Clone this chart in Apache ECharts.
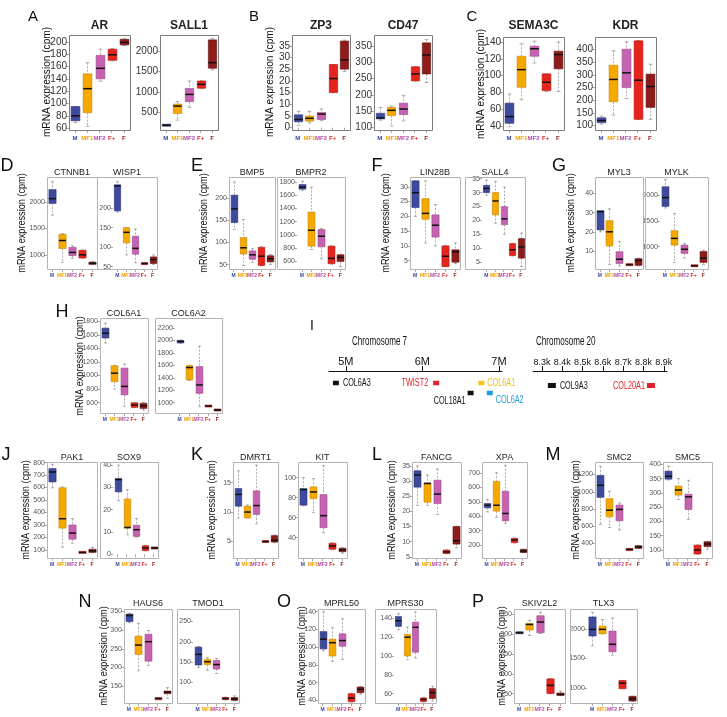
<!DOCTYPE html>
<html>
<head>
<meta charset="utf-8">
<script src="https://cdn.jsdelivr.net/npm/echarts@6/dist/echarts.min.js"></script>
<style>
  html, body { margin: 0; padding: 0; background: #fff; }
  #chart { width: 727px; height: 717px; }
</style>
</head>
<body>
<div id="chart"></div>
<script>
const groups = ['M', 'MF1', 'MF2', 'F+', 'F'];

// box stats per group: [min, q1, median, q3, max]
const AR      = [[69,72,80,95,95],[63,85,124,148,166],[136,140,157,178,188],[169,170,179,188,189],[194,195,199,204,205]];
const SALL1   = [[180,185,195,205,210],[320,480,660,710,770],[630,770,945,1090,1270],[1090,1095,1190,1270,1275],[1540,1580,1715,2270,2300]];
const ZP3     = [[1,2.5,3.5,5.5,7],[2,2.8,4,5,7],[3,3.5,5.8,6.5,8],[15,15,21,27,27],[24,25,29,37,37.4]];
const CD47    = [[123,127,130,144,162],[105,137,153,162,166],[121,140,157,175,198],[242,243,264,286,287],[238,264,322,359,369]];
const SEMA3C  = [[39,43,51,67,78],[71,86,107,123,138],[115,123,132,135,141],[81,82,92,102,102],[81,108,125,129,140]];
const KDR     = [[106,112,120,131,138],[142,194,282,338,395],[207,250,308,401,430],[124,125,279,434,435],[125,172,254,303,342]];
const CTNNB1  = [[1750,1970,2060,2230,2380],[860,1120,1270,1385,1400],[935,985,1045,1140,1170],[935,940,1000,1085,1090],[815,820,840,860,870]];
const WISP1   = [[190,193,257,260,268],[80,111,138,150,150],[60,82,97,128,147],[57,57.5,58,58.5,59],[56,58,68,75,80]];
const BMP5    = [[129,145,176,207,237],[48,74,88,111,152],[55,62,72,81,86],[47,48,69,89,90],[50,56,63,70,73]];
const BMPR2   = [[1675,1690,1720,1760,1810],[780,830,1070,1345,1720],[640,820,980,1080,1095],[560,565,645,830,835],[520,600,660,700,705]];
const LIN28B  = [[20,23,28,32,32],[11,19,21,26,32],[10,13,17,20.5,24],[3,3,6.5,10,10.2],[4,4.5,8,8.7,11]];
const SALL4   = [[29,30,31.5,32.6,34.5],[19,22,27,30,34],[15,18.5,20.6,25,32],[7.3,7.4,9.5,11.7,11.8],[3.5,6.5,10.5,13.5,15.5]];
const MYL3    = [[20,21,30.5,31,31],[3,12.6,20,25.8,32],[2.3,3.5,5.7,9.6,15],[2.6,2.7,2.9,3.0,3.1],[2.3,2.5,5,6,6.2]];
const MYLK    = [[1750,1780,1950,2160,2300],[690,1030,1160,1310,1640],[780,870,950,1030,1060],[620,625,630,635,640],[650,695,780,905,930]];
const COL6A1  = [[1480,1555,1625,1700,1775],[800,910,1035,1145,1150],[550,715,840,1110,1170],[525,530,565,598,600],[490,515,555,590,605]];
const COL6A2  = [[1955,1960,1985,2000,2005],[1360,1365,1565,1595,1600],[935,1150,1285,1580,1910],[940,942,946,950,952],[875,878,882,886,890]];
const PAK1    = [[598,645,725,752,787],[122,275,350,598,605],[154,186,235,300,350],[78,79,80,81,82],[78,80,92,105,120]];
const SOX9    = [[24,28,33.5,34,40],[8.7,11.7,12,24.8,29],[7.7,8,11,13,16],[1.5,1.6,2.8,3.8,4],[2.6,2.7,2.8,2.9,3.0]];
const DMRT1   = [[9,11,13,14,17],[9,9,10,11,11.2],[8,9.6,11.1,13.6,18],[4.9,4.95,5,5.05,5.1],[4.8,4.9,5.2,6,6.1]];
const KIT     = [[72,72.5,88,89,100],[65,79,85.7,90.7,99],[45,50,62,83,112],[28,28.5,31.7,34.4,35],[24.5,26,27.7,29.4,30]];
const FANCG   = [[22,28,32,33.4,35],[22,23,29.2,29.4,32],[19,22.6,25.7,30.3,34],[6,6.1,6.6,7.2,7.3],[8,9.2,10.3,15,15.1]];
const XPA     = [[430,458,476,488,516],[391,435,476,642,702],[350,368,419,573,753],[215,216,235,246,248],[147,148,159,170,171]];
const SMC2    = [[620,935,1075,1190,1295],[585,710,785,920,1005],[555,663,795,845,870],[315,318,330,340,342],[340,342,360,372,374]];
const SMC5    = [[345,348,358,376,393],[277,292,310,324,350],[207,242,286,295,344],[85,86,100,117,118],[103,112,121,129,130]];
const HAUS6   = [[320,323,339,343,345],[191,235,260,284,318],[206,217,269,289,299],[114,115,117,118,119],[118,130,134,137,146]];
const TMOD1   = [[137,143,169,187,188],[130,144,151,157,161],[122,133,144,154,159],[57,58,60.5,63,64],[55,56,59,63,67]];
const MPRL50  = [[96,98,109,117.5,140],[84,90,105,109,122],[86,101,107.4,115,132],[38,38.5,42.6,47.5,48],[47,48.6,52.4,55,55.5]];
const MPRS30  = [[128,131.5,137.5,142,145],[96,100,120,123,131],[97.7,104,130.5,136,147],[51,51.5,53.7,55.4,56],[52,54.7,61,65.3,67.8]];
const SKIV2L2 = [[302,303,304,305,306],[297,311,325,327.5,336],[302,304,331,347,356],[150,150.5,171,187.5,188],[145,146,148,151.7,156.7]];
const TLX3    = [[1710,1877,1990,2200,2280],[1915,1916,1990,2045,2156],[1553,1609,1737,1961,2184],[983,985,1078,1123,1125],[771,775,816,855,857]];

// y tick labels
const tAR      = [60,80,100,120,140,160,180,200];
const tSALL1   = [500,1000,1500,2000];
const tZP3     = [0,5,10,15,20,25,30,35];
const tCD47    = [100,150,200,250,300,350];
const tSEMA3C  = [40,60,80,100,120,140];
const tKDR     = [100,150,200,250,300,350,400];
const tCTNNB1  = [1000,1500,2000];
const tWISP1   = [50,100,150,200];
const tBMP5    = [50,100,150,200];
const tBMPR2   = [600,800,1000,1200,1400,1600,1800];
const tLIN28B  = [5,10,15,20,25,30];
const tSALL4   = [5,10,15,20,25,30,35];
const tMYL3    = [10,20,30,40];
const tMYLK    = [1000,1500,2000];
const tCOL6A1  = [600,800,1000,1200,1400,1600,1800];
const tCOL6A2  = [1000,1200,1400,1600,1800,2000,2200];
const tPAK1    = [100,200,300,400,500,600,700,800];
const tSOX9    = [0,10,20,30,40];
const tDMRT1   = [5,10,15];
const tKIT     = [40,60,80,100];
const tFANCG   = [5,10,15,20,25,30,35];
const tXPA     = [200,300,400,500,600,700];
const tSMC2    = [400,600,800,1000,1200];
const tSMC5    = [100,150,200,250,300,350,400];
const tHAUS6   = [150,200,250,300,350];
const tTMOD1   = [100,150,200,250];
const tMPRL50  = [40,60,80,100,120,140];
const tMPRS30  = [60,80,100,120,140];
const tSKIV2L2 = [150,200,250,300,350];
const tTLX3    = [1000,1500,2000];

// chromosome map (panel I)
const chr7Ticks  = [5, 6, 7];
const chr7Genes  = ['COL6A3', 'TWIST2', 'COL6A1', 'COL18A1', 'COL6A2'];
const chr7Pos    = [4.87, 6.18, 6.77, 6.63, 6.88];
const chr7Lane   = [1.2, 1.2, 1.2, 2.2, 2.2];
const chr20Ticks = [8.3, 8.4, 8.5, 8.6, 8.7, 8.8, 8.9];
const chr20Genes = ['COL9A3', 'COL20A1'];
const chr20Pos   = [8.349, 8.837];
const chr20Lane  = [1.45, 1.45];

const FONT = '"Liberation Sans", Arial, sans-serif';
const fill = ['#3E4A9E', '#F5A800', '#C662AF', '#E5251D', '#8D1C1A'];
const edge = ['#2B3479', '#C98700', '#9C4689', '#B5190F', '#5E100E'];
const tickColors = ['#3A46A0', '#EFA000', '#B04CA6', '#E0201A', '#8A1610'];

// layout: [left, top, right, bottom] of plotting area; fl = frame left when frame wraps tick labels
const panels = [
  {g:'AR', v:AR, t:tAR, y:[57,211], box:[69,35,130,130], big:true},
  {g:'SALL1', v:SALL1, t:tSALL1, y:[79,2389], box:[160,35,218,130], big:true},
  {g:'ZP3', v:ZP3, t:tZP3, y:[-1,39.6], box:[292,35,350,130], big:true},
  {g:'CD47', v:CD47, t:tCD47, y:[93,383], box:[374,35,432,130], big:true},
  {g:'SEMA3C', v:SEMA3C, t:tSEMA3C, y:[35,146], box:[503,37,564,130], big:true},
  {g:'KDR', v:KDR, t:tKDR, y:[83,449], box:[595,37,656,130], big:true},

  {g:'CTNNB1', v:CTNNB1, t:tCTNNB1, y:[732,2469], box:[47,177,97,269], ty:173},
  {g:'WISP1', v:WISP1, t:tWISP1, y:[44,280], box:[113,177,157,269], fl:97, ty:173},
  {g:'BMP5', v:BMP5, t:tBMP5, y:[40,248], box:[229,177,275,269], ty:173},
  {g:'BMPR2', v:BMPR2, t:tBMPR2, y:[485,1874], box:[297,177,345,269], fl:277, ty:173},
  {g:'LIN28B', v:LIN28B, t:tLIN28B, y:[2.2,33.3], box:[410,177,460,269], ty:173},
  {g:'SALL4', v:SALL4, t:tSALL4, y:[2.6,35.6], box:[482,177,525,269], fl:465, ty:173},
  {g:'MYL3', v:MYL3, t:tMYL3, y:[0.6,48.6], box:[595,177,643,269], ty:173},
  {g:'MYLK', v:MYLK, t:tMYLK, y:[567,2349], box:[660,177,708,269], fl:645, ty:173},

  {g:'COL6A1', v:COL6A1, t:tCOL6A1, y:[447,1850], box:[100,318,148,413], ty:314},
  {g:'COL6A2', v:COL6A2, t:tCOL6A2, y:[834,2361], box:[175,318,222,413], fl:155, ty:314},

  {g:'PAK1', v:PAK1, t:tPAK1, y:[35,805], box:[47,462,97,558], ty:458},
  {g:'SOX9', v:SOX9, t:tSOX9, y:[-1.7,41.4], box:[113,462,158,558], fl:100, ty:458},
  {g:'DMRT1', v:DMRT1, t:tDMRT1, y:[2.2,18.5], box:[233,462,278,558], ty:458},
  {g:'KIT', v:KIT, t:tKIT, y:[19.7,115.6], box:[298,462,347,558], ty:458},
  {g:'FANCG', v:FANCG, t:tFANCG, y:[4.6,36.3], box:[412,462,461,558], ty:458},
  {g:'XPA', v:XPA, t:tXPA, y:[110,776], box:[482,462,527,558], ty:458},
  {g:'SMC2', v:SMC2, t:tSMC2, y:[230,1346], box:[595,462,643,558], ty:458},
  {g:'SMC5', v:SMC5, t:tSMC5, y:[72,408], box:[663,462,712,558], ty:458},

  {g:'HAUS6', v:HAUS6, t:tHAUS6, y:[105,356.5], box:[124,609,172,703], ty:604},
  {g:'TMOD1', v:TMOD1, t:tTMOD1, y:[49.5,280.7], box:[193,609,239,703], fl:177, ty:604},
  {g:'MPRL50', v:MPRL50, t:tMPRL50, y:[37,143], box:[318,609,365,703], ty:604},
  {g:'MPRS30', v:MPRS30, t:tMPRS30, y:[50,150], box:[394,609,436,703], fl:375, ty:604},
  {g:'SKIV2L2', v:SKIV2L2, t:tSKIV2L2, y:[126.5,364], box:[514,609,565,703], ty:604},
  {g:'TLX3', v:TLX3, t:tTLX3, y:[742,2335], box:[587,609,637,703], fl:570, ty:604}
];

const letters = [
  ['A',33,17,15],['B',254,17,15],['C',472,17,15],
  ['D',7,166,18],['E',197,166,18],['F',377,166,18],['G',559,166,18],
  ['H',62,312,18],['I',312,326,14],
  ['J',6,455,18],['K',197,455,18],['L',377,455,18],['M',553,455,18],
  ['N',85,602,18],['O',284,602,18],['P',478,602,18]
];
// y-axis caption positions [x, y, size, squeeze]
const yNames = [
  [47,82,11,0.92],[270,82,11,0.92],[481,84,11,0.92],
  [22,223,11,0.83],[204,223,11,0.83],[386,223,11,0.83],[571,223,11,0.83],
  [80,366,11,0.83],
  [26,510,11,0.83],[212,510,11,0.83],[392,510,11,0.83],[576,510,11,0.83],
  [104,656,11,0.83],[302,656,11,0.83],[502,656,11,0.83]
];

function boxItem(params, api) {
  const i = api.value(0);
  const p = [1, 2, 3, 4, 5].map(k => api.coord([i, api.value(k)]));
  const cx = Math.round(p[0][0]) + 0.5;
  const w = api.size([1, 0])[0] * 0.72;
  const cap = w * 0.45;
  const top = p[3][1], bot = p[1][1];
  const h = Math.max(bot - top, 2);
  const y0 = bot - top < 2 ? (top + bot) / 2 - 1 : top;
  const dash = {stroke: '#8c8c8c', lineWidth: 0.7, lineDash: [2, 1.5]};
  const solid = {stroke: '#8c8c8c', lineWidth: 0.7};
  return {
    type: 'group',
    children: [
      {type: 'line', shape: {x1: cx, y1: p[4][1], x2: cx, y2: top}, style: dash},
      {type: 'line', shape: {x1: cx, y1: bot, x2: cx, y2: p[0][1]}, style: dash},
      {type: 'line', shape: {x1: cx - cap / 2, y1: p[4][1], x2: cx + cap / 2, y2: p[4][1]}, style: solid},
      {type: 'line', shape: {x1: cx - cap / 2, y1: p[0][1], x2: cx + cap / 2, y2: p[0][1]}, style: solid},
      {type: 'rect', shape: {x: cx - w / 2, y: y0, width: w, height: h},
        style: {fill: fill[i], stroke: edge[i], lineWidth: 0.6}},
      {type: 'line', shape: {x1: cx - w / 2, y1: p[2][1], x2: cx + w / 2, y2: p[2][1]},
        style: {stroke: '#111', lineWidth: 1.5}}
    ]
  };
}

const grid = [], xAxis = [], yAxis = [], series = [], graphic = [];

function txt(text, x, y, font, opts) {
  const o = opts || {};
  return {
    type: 'text', silent: true, x: x, y: y,
    rotation: o.rotation || 0, scaleX: o.scaleX || 1,
    style: {
      text: text, fill: o.fill || '#111', font: font,
      align: o.align || 'center', verticalAlign: 'middle',
      textAlign: o.align || 'center', textVerticalAlign: 'middle'
    }
  };
}

panels.forEach((p, k) => {
  const [l, t, r, b] = p.box;
  const fl = p.fl !== undefined ? p.fl : l;
  grid.push({left: l, top: t, width: r - l, height: b - t});
  xAxis.push({
    type: 'category', gridIndex: k, data: groups,
    axisLine: {show: false},
    axisTick: {show: true, alignWithLabel: true, length: 3, lineStyle: {color: '#888', width: 0.7}},
    axisLabel: {
      interval: 0, margin: p.big ? 5 : 4, fontSize: p.big ? 6 : 5, fontWeight: 'bold',
      fontFamily: FONT, color: (v) => tickColors[groups.indexOf(v)]
    },
    splitLine: {show: false}
  });
  yAxis.push({
    type: 'value', gridIndex: k, min: p.y[0], max: p.y[1],
    axisLine: {show: false},
    axisTick: {show: true, length: 3, customValues: p.t, lineStyle: {color: '#888', width: 0.7}},
    axisLabel: {customValues: p.t, formatter: v => String(v), fontSize: p.big ? 10 : 7,
      color: p.big ? '#333' : '#555', margin: 2, fontFamily: FONT},
    splitLine: {show: false}
  });
  series.push({
    type: 'custom', xAxisIndex: k, yAxisIndex: k, clip: false,
    renderItem: boxItem,
    data: p.v.map((d, i) => [i].concat(d))
  });
  graphic.push({
    type: 'rect', silent: true, z: 1,
    shape: {x: fl + 0.5, y: t + 0.5, width: r - fl, height: b - t},
    style: {fill: 'none', stroke: p.big ? '#7d7d7d' : '#b4b4b4', lineWidth: 1}
  });
  graphic.push(txt(p.g, (fl + r) / 2, p.big ? 26 : p.ty,
    p.big ? 'bold 12px ' + FONT : '9px ' + FONT, {fill: '#222'}));
});

letters.forEach(([s, x, y, size]) => graphic.push(txt(s, x, y, size + 'px ' + FONT)));
yNames.forEach(([x, y, size, sq]) => graphic.push(
  txt('mRNA expression (cpm)', x, y, size + 'px ' + FONT, {rotation: Math.PI / 2, scaleX: sq})));

// panel I: chromosome maps
const chr7Style = [
  {color: '#111', text: '#111', side: 1, dx: 4, dy: 0},
  {color: '#E3202A', text: '#E3202A', side: -1, dx: 5, dy: 0},
  {color: '#F4C41A', text: '#F0BE10', side: 1, dx: 3, dy: 0},
  {color: '#111', text: '#111', side: -1, dx: 2, dy: 8},
  {color: '#1B9FDA', text: '#1B9FDA', side: 1, dx: 3, dy: 7}
];
const chr20Style = [
  {color: '#111', text: '#111', side: 1, dx: 4, dy: 0},
  {color: '#E3202A', text: '#E3202A', side: -1, dx: 2, dy: 0}
];

function geneRenderer(names, styles, w, h) {
  return function (params, api) {
    const c = api.coord([api.value(0), api.value(1)]);
    const s = styles[params.dataIndex];
    const tx = s.side > 0 ? c[0] + w / 2 + s.dx : c[0] - w / 2 - s.dx;
    return {
      type: 'group',
      children: [
        {type: 'rect', shape: {x: c[0] - w / 2, y: c[1] - h / 2, width: w, height: h}, style: {fill: s.color}},
        {type: 'text', x: tx, y: c[1] + s.dy, scaleX: 0.66,
          style: {text: names[params.dataIndex], fill: s.text, font: '11px ' + FONT,
            align: s.side > 0 ? 'left' : 'right', verticalAlign: 'middle',
            textAlign: s.side > 0 ? 'left' : 'right', textVerticalAlign: 'middle'}}
      ]
    };
  };
}

function chrAxis(k, min, max, ticks, fmt, size) {
  xAxis.push({
    type: 'value', gridIndex: k, position: 'top', min: min, max: max,
    axisLine: {show: true, lineStyle: {color: '#111', width: 1}},
    axisTick: {show: true, length: 5, customValues: ticks, lineStyle: {color: '#111', width: 1}},
    axisLabel: {customValues: ticks, formatter: fmt, fontSize: size, color: '#111', fontFamily: FONT, margin: 4},
    splitLine: {show: false}
  });
  yAxis.push({type: 'value', gridIndex: k, min: 0, max: 3, inverse: true, show: false});
}

let k = panels.length;
grid.push({left: 329, top: 371, width: 173, height: 30});
chrAxis(k, 4.78, 7.04, chr7Ticks, v => v + 'M', 11);
series.push({type: 'custom', xAxisIndex: k, yAxisIndex: k, clip: false,
  renderItem: geneRenderer(chr7Genes, chr7Style, 6, 4.5),
  data: chr7Pos.map((x, i) => [x, chr7Lane[i]])});
k += 1;
grid.push({left: 533, top: 371, width: 134, height: 30});
chrAxis(k, 8.256, 8.916, chr20Ticks, v => v.toFixed(1) + 'k', 9);
series.push({type: 'custom', xAxisIndex: k, yAxisIndex: k, clip: false,
  renderItem: geneRenderer(chr20Genes, chr20Style, 8, 5),
  data: chr20Pos.map((x, i) => [x, chr20Lane[i]])});

graphic.push(txt('Chromosome 7', 352, 341, '13px ' + FONT, {align: 'left', scaleX: 0.62}));
graphic.push(txt('Chromosome 20', 536, 341, '13px ' + FONT, {align: 'left', scaleX: 0.62}));

const chart = echarts.init(document.getElementById('chart'));
chart.setOption({
  backgroundColor: '#fff',
  animation: false,
  grid: grid,
  xAxis: xAxis,
  yAxis: yAxis,
  series: series,
  graphic: graphic
});
</script>
</body>
</html>
